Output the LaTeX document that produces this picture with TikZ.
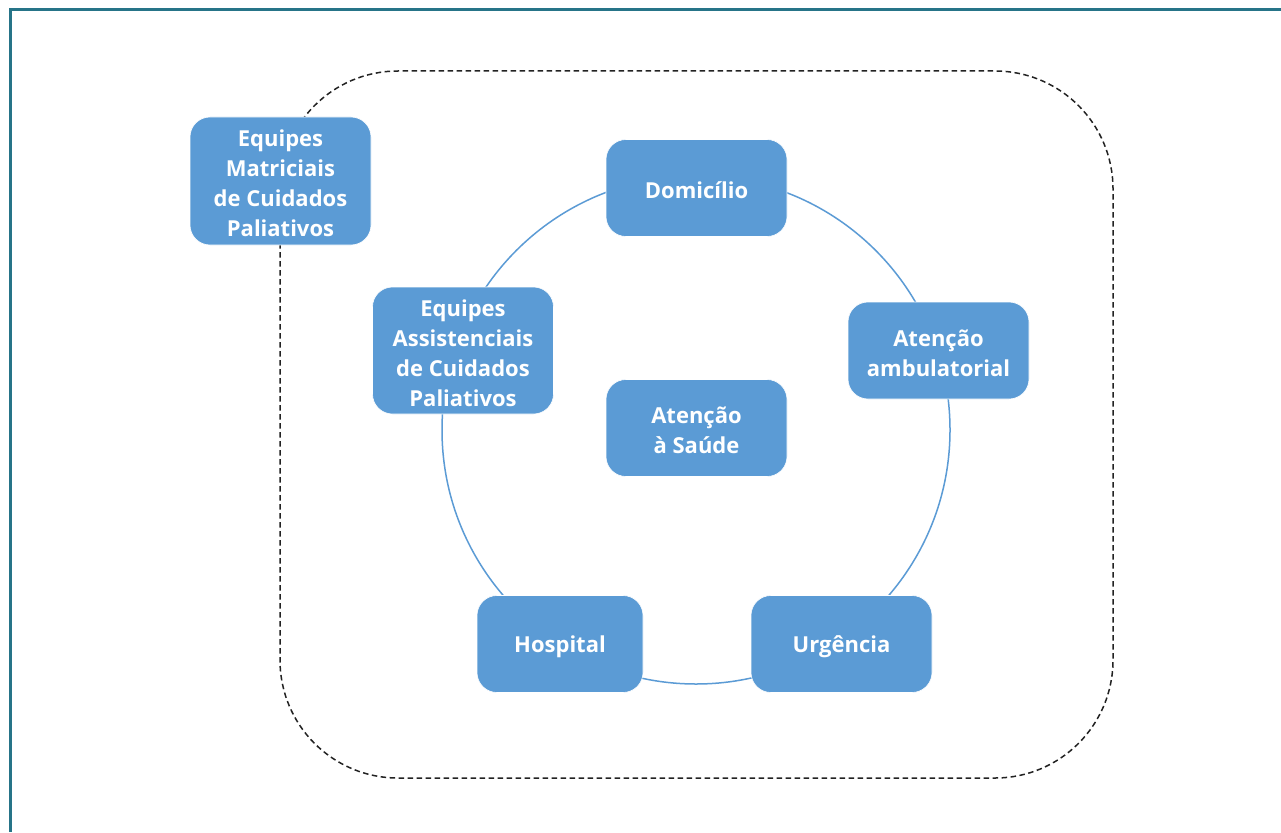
\documentclass[tikz,border=0pt]{standalone}
\usepackage{fontspec}
\setmainfont{Open Sans}
\definecolor{boxblue}{RGB}{91,155,213}
\definecolor{frameteal}{RGB}{38,116,136}
\definecolor{dashgray}{RGB}{34,34,34}
\begin{document}
\begin{tikzpicture}[x=1pt,y=-1pt,
  bluebox/.style={rectangle, rounded corners=20pt, fill=boxblue, draw=white, line width=0.6pt,
    minimum width=181pt, minimum height=97pt, inner sep=0pt},
  boxtext/.style={text=white, font=\fontsize{22}{30}\selectfont\bfseries, align=center,
    inner sep=0pt, yshift=-2.5pt},
  ring/.style={draw=boxblue, line width=1.5pt},
  dashframe/.style={draw=dashgray, line width=1.5pt, dash pattern=on 5.5pt off 3.5pt, rounded corners=118pt}]
\useasboundingbox (0,0) rectangle (1281,832);
\fill[white] (0,0) rectangle (1281,832);
% outer frame (top and left only)
\coordinate (ftl) at (10.5,9.5);
\coordinate (ftr) at (1281,9.5);
\coordinate (fbl) at (10.5,832);
\draw[frameteal, line width=3pt] (ftr) -- (ftl) -- (fbl);
% dashed region
\coordinate (dtl) at (280,71);
\coordinate (dbr) at (1113,778);
\draw[dashframe] (dtl) rectangle (dbr);
% ring
\coordinate (ctr) at (696,430);
\draw[ring] (ctr) circle[radius=254pt];
% boxes
\node[bluebox, label={[boxtext]center:Domicílio}] (dom) at (696.5,188) {};
\node[bluebox, label={[boxtext]center:Atenção\\ambulatorial}] (amb) at (938.5,350.5) {};
\node[bluebox, label={[boxtext]center:Urgência}] (urg) at (841.5,644) {};
\node[bluebox, minimum width=166pt, label={[boxtext]center:Hospital}] (hosp) at (560,644) {};
\node[bluebox, minimum height=127pt, label={[boxtext]center:Equipes\\Assistenciais\\de Cuidados\\Paliativos}] (assist) at (463,350.5) {};
\node[bluebox, label={[boxtext]center:Atenção\\à Saúde}] (saude) at (696.5,428) {};
\node[bluebox, minimum height=128pt, label={[boxtext]center:Equipes\\Matriciais\\de Cuidados\\Paliativos}] (matr) at (280.5,181) {};
\end{tikzpicture}
\end{document}
